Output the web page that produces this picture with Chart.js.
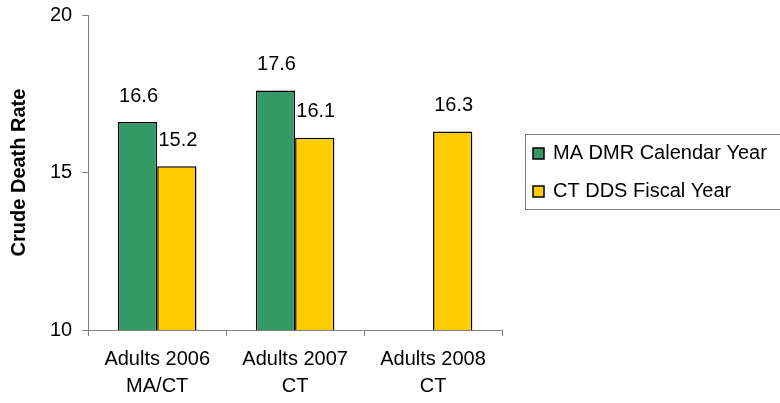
<!DOCTYPE html>
<html>
<head>
<meta charset="utf-8">
<script src="https://cdn.jsdelivr.net/npm/chart.js@4/dist/chart.umd.min.js"></script>
<style>
  html, body { margin: 0; padding: 0; background: #fff; }
  #wrap { width: 780px; height: 403px; position: relative; }
</style>
</head>
<body>
<div id="wrap"><canvas id="chart"></canvas></div>
<script>
const categories = [['Adults 2006', 'MA/CT'], ['Adults 2007', 'CT'], ['Adults 2008', 'CT']];
const maValues = [16.6, 17.6, null];
const ctValues = [15.2, 16.1, 16.3];
const seriesNames = ['MA DMR Calendar Year', 'CT DDS Fiscal Year'];
const yTicks = [10, 15, 20];

const FONT = '"Liberation Sans", Arial, sans-serif';

// value labels above each bar
const valueLabels = {
  id: 'valueLabels',
  afterDatasetsDraw(chart) {
    const ctx = chart.ctx;
    ctx.save();
    ctx.font = '20px ' + FONT;
    ctx.fillStyle = '#000';
    ctx.textAlign = 'center';
    ctx.textBaseline = 'middle';
    chart.data.datasets.forEach((ds, i) => {
      chart.getDatasetMeta(i).data.forEach((bar, j) => {
        if (ds.data[j] == null) return;
        ctx.fillText(ds.data[j].toFixed(1), bar.x + 1, bar.y - 26);
      });
    });
    ctx.restore();
  }
};

// boxed legend to the right, running off the edge like the original
const sideLegend = {
  id: 'sideLegend',
  afterDraw(chart) {
    const ctx = chart.ctx;
    ctx.save();
    ctx.strokeStyle = '#808080';
    ctx.lineWidth = 1;
    ctx.strokeRect(525.5, 134.5, 300, 75);
    ctx.font = '20px ' + FONT;
    ctx.textBaseline = 'middle';
    chart.data.datasets.forEach((ds, i) => {
      const y = 153 + i * 38;
      ctx.fillStyle = ds.backgroundColor;
      ctx.fillRect(533, y - 5, 11, 11);
      ctx.strokeStyle = '#000';
      ctx.lineWidth = 1.5;
      ctx.strokeRect(533, y - 5, 11, 11);
      ctx.fillStyle = '#000';
      ctx.fillText(ds.label, 553, y);
    });
    ctx.restore();
  }
};

new Chart(document.getElementById('chart'), {
  type: 'bar',
  data: {
    labels: categories,
    datasets: [
      { label: seriesNames[0], data: maValues, backgroundColor: '#339966', borderColor: '#000', borderWidth: 1.5 },
      { label: seriesNames[1], data: ctValues, backgroundColor: '#FFCC00', borderColor: '#000', borderWidth: 1.5 }
    ]
  },
  options: {
    responsive: true,
    maintainAspectRatio: false,
    animation: false,
    layout: { padding: { top: 0, right: 278, left: 7, bottom: -7 } },
    plugins: { legend: { display: false }, tooltip: { enabled: false } },
    datasets: { bar: { categoryPercentage: 0.57, barPercentage: 1.0 } },
    scales: {
      x: {
        grid: { drawOnChartArea: false, drawTicks: true, tickLength: 6, color: '#808080' },
        border: { color: '#808080', width: 1 },
        ticks: { color: '#000', font: { size: 20, family: FONT, lineHeight: 1.35 }, padding: 10, maxRotation: 0 }
      },
      y: {
        min: 10, max: 20,
        afterBuildTicks(axis) { axis.ticks = yTicks.map(v => ({ value: v })); },
        grid: { drawOnChartArea: false, drawTicks: true, tickLength: 6, color: '#808080' },
        border: { color: '#808080', width: 1 },
        ticks: { color: '#000', font: { size: 20, family: FONT, lineHeight: 0.5 }, padding: 10 },
        title: { display: true, text: 'Crude Death Rate', color: '#000', font: { size: 20, weight: 'bold', family: FONT }, padding: { top: 0, bottom: 9 } }
      }
    }
  },
  plugins: [valueLabels, sideLegend]
});
</script>
</body>
</html>
